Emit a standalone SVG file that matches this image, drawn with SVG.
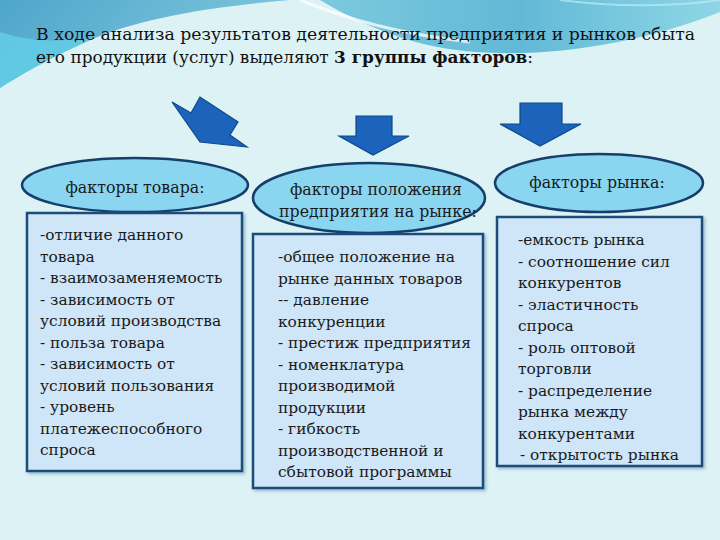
<svg xmlns="http://www.w3.org/2000/svg" width="720" height="540" viewBox="0 0 720 540">
  <defs>
    <linearGradient id="gTop" x1="0" y1="0" x2="1" y2="0.3">
      <stop offset="0" stop-color="#4ea6cb"/>
      <stop offset="1" stop-color="#7fc6dd"/>
    </linearGradient>
    <linearGradient id="gRight" x1="0" y1="0" x2="1" y2="0">
      <stop offset="0" stop-color="#7cc9de"/>
      <stop offset="0.5" stop-color="#62b9d6"/>
      <stop offset="1" stop-color="#8fd6e6"/>
    </linearGradient>
    <filter id="shadow" x="-5%" y="-5%" width="115%" height="115%">
      <feDropShadow dx="2" dy="2" stdDeviation="1.5" flood-color="#4a7ea8" flood-opacity="0.45"/>
    </filter>
  </defs>
  <style>
    .title { font-family: "DejaVu Serif", "Liberation Serif", serif; font-size: 17px; fill: #111; }
    .bold { font-weight: bold; }
    .ell { fill: #8ad5f0; stroke: #153f6b; stroke-width: 2.5; }
    .box { fill: #cfe5f8; stroke: #1f4e79; stroke-width: 2.5; filter: url(#shadow); }
    .lbl { font-family: "DejaVu Serif", "Liberation Serif", serif; font-size: 15.8px; fill: #1a1a1a; }
    .item { font-family: "DejaVu Serif", "Liberation Serif", serif; font-size: 15.4px; fill: #1a1a1a; }
    .arrow { fill: #1b63bb; stroke: #0f4a88; stroke-width: 1.2; stroke-linejoin: miter; }
  </style>

  <!-- background -->
  <rect x="0" y="0" width="720" height="540" fill="#dcf2f5"/>
  <path d="M0,0 H290 C230,5 150,15 95,38 C55,55 22,74 0,88 Z" fill="url(#gTop)"/>
  <path d="M0,32 C30,42 60,42 95,38 C55,55 22,74 0,88 Z" fill="#63cfe8" opacity="0.8"/>
  <path d="M320,0 H720 V12 C650,40 560,58 475,52 C420,48 370,30 320,0 Z" fill="url(#gRight)"/>
  <path d="M300,0 C350,20 400,34 470,42" fill="none" stroke="#ffffff" stroke-width="3" opacity="0.75"/>
  <path d="M560,0 C620,8 680,6 720,0" fill="none" stroke="#b9ecf3" stroke-width="2" opacity="0.7"/>

  <!-- title -->
  <g id="title">
    <text class="title" x="36" y="40" textLength="659" lengthAdjust="spacingAndGlyphs">В ходе  анализа результатов деятельности предприятия и рынков сбыта</text>
    <text class="title" x="36" y="63" textLength="497" lengthAdjust="spacingAndGlyphs">его продукции (услуг) выделяют <tspan class="bold">3 группы факторов</tspan>:</text>
  </g>

  <!-- connectors (block arrows) -->
  <g id="connectors">
    <polygon class="arrow" points="172,102 191,113 200,97 238,122 230,135 247,147 200,142"/>
    <polygon class="arrow" points="356,116 392,116 392,136 409,136 373,155 339,136 356,136"/>
    <polygon class="arrow" points="520,103 562,103 562,124 581,124 540,146 500,124 520,124"/>
  </g>

  <!-- left group -->
  <g id="node-tovar">
    <ellipse class="ell" cx="135" cy="185" rx="113" ry="27"/>
    <text class="lbl" x="135" y="193" text-anchor="middle">факторы товара:</text>
  </g>
  <g id="node-tovar-list">
    <rect class="box" x="27" y="213" width="215" height="258"/>
    <text class="item">
      <tspan x="40" y="240">-отличие данного</tspan>
      <tspan x="40" y="261.5">товара</tspan>
      <tspan x="40" y="283">- взаимозаменяемость</tspan>
      <tspan x="40" y="304.5">- зависимость от</tspan>
      <tspan x="40" y="326">условий производства</tspan>
      <tspan x="40" y="347.5">- польза товара</tspan>
      <tspan x="40" y="369">- зависимость от</tspan>
      <tspan x="40" y="390.5">условий пользования</tspan>
      <tspan x="40" y="412">- уровень</tspan>
      <tspan x="40" y="433.5">платежеспособного</tspan>
      <tspan x="40" y="455">спроса</tspan>
    </text>
  </g>

  <!-- middle group -->
  <g id="node-polozhenie">
    <ellipse class="ell" cx="369" cy="198" rx="116" ry="35"/>
    <text class="lbl" x="376" y="195" text-anchor="middle">факторы положения</text>
    <text class="lbl" x="378" y="217" text-anchor="middle">предприятия на  рынке:</text>
  </g>
  <g id="node-polozhenie-list">
    <rect class="box" x="253" y="234" width="230" height="254"/>
    <text class="item">
      <tspan x="278" y="262">-общее положение на</tspan>
      <tspan x="278" y="283.5">рынке данных товаров</tspan>
      <tspan x="278" y="305">-- давление</tspan>
      <tspan x="278" y="326.5">конкуренции</tspan>
      <tspan x="278" y="348">- престиж предприятия</tspan>
      <tspan x="278" y="369.5">- номенклатура</tspan>
      <tspan x="278" y="391">производимой</tspan>
      <tspan x="278" y="412.5">продукции</tspan>
      <tspan x="278" y="434">- гибкость</tspan>
      <tspan x="278" y="455.5">производственной и</tspan>
      <tspan x="278" y="477">сбытовой программы</tspan>
    </text>
  </g>

  <!-- right group -->
  <g id="node-rynok">
    <ellipse class="ell" cx="599" cy="183" rx="104" ry="29"/>
    <text class="lbl" x="597" y="188" text-anchor="middle">факторы рынка:</text>
  </g>
  <g id="node-rynok-list">
    <rect class="box" x="497" y="217" width="205" height="249"/>
    <text class="item">
      <tspan x="518" y="245">-емкость рынка</tspan>
      <tspan x="518" y="266.5">- соотношение сил</tspan>
      <tspan x="518" y="288">конкурентов</tspan>
      <tspan x="518" y="309.5">- эластичность</tspan>
      <tspan x="518" y="331">спроса</tspan>
      <tspan x="518" y="352.5">- роль оптовой</tspan>
      <tspan x="518" y="374">торговли</tspan>
      <tspan x="518" y="395.5">- распределение</tspan>
      <tspan x="518" y="417">рынка между</tspan>
      <tspan x="518" y="438.5">конкурентами</tspan>
      <tspan x="520" y="460">- открытость рынка</tspan>
    </text>
  </g>
</svg>
